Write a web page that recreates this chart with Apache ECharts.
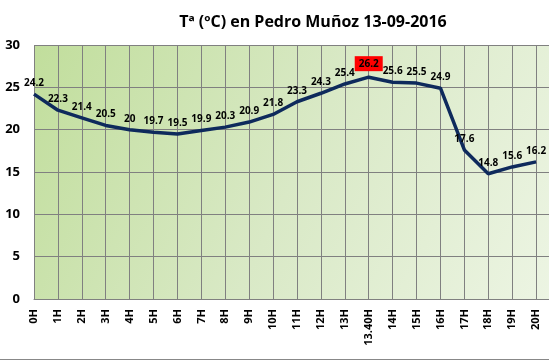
<!DOCTYPE html>
<html><head><meta charset="utf-8">
<script src="https://cdn.jsdelivr.net/npm/echarts@6/dist/echarts.min.js"></script>
<style>html,body{margin:0;padding:0;background:#fff;overflow:hidden}#c{width:560px;height:360px}</style>
</head><body><div id="c"></div>
<script>
var title = 'Tª (ºC) en Pedro Muñoz 13-09-2016';
var categories = ['0H','1H','2H','3H','4H','5H','6H','7H','8H','9H','10H','11H','12H','13H','13.40H','14H','15H','16H','17H','18H','19H','20H'];
var temps = [24.2,22.3,21.4,20.5,20,19.7,19.5,19.9,20.3,20.9,21.8,23.3,24.3,25.4,26.2,25.6,25.5,24.9,17.6,14.8,15.6,16.2];
var yTicks = [0,5,10,15,20,25,30];
var highlightCat = '13.40H';

var chart = echarts.init(document.getElementById('c'), null, {renderer:'canvas'});
var font = 'Open Sans';
var seriesData = temps.map(function(v,i){
  var d = {value:v};
  if (categories[i] === highlightCat) {
    d.label = {backgroundColor:'#ff0000', padding:[3,4,2,4], distance:6};
  }
  return d;
});
chart.setOption({
  animation:false,
  backgroundColor:'#ffffff',
  title:{text:title,left:308,top:9,textAlign:'center',textStyle:{fontFamily:font,fontWeight:'bold',fontSize:16,color:'#000'}},
  grid:{left:34,right:0,top:45,bottom:61,show:true,borderWidth:0,
    backgroundColor:new echarts.graphic.LinearGradient(0,0,1,1,[{offset:0,color:'#c1de9c'},{offset:0.5,color:'#d9e9c6'},{offset:1,color:'#edf5e4'}])},
  xAxis:{type:'category',data:categories.concat(['']),boundaryGap:false,
    axisLine:{lineStyle:{color:'#808080',width:1}},axisTick:{show:false},
    splitLine:{show:true,lineStyle:{color:'#808080',width:1}},
    axisLabel:{rotate:90,interval:0,margin:10,fontFamily:font,fontWeight:'bold',fontSize:11,color:'#000'}},
  yAxis:{type:'value',min:yTicks[0],max:yTicks[yTicks.length-1],interval:5,
    axisLine:{show:false},axisTick:{show:false},
    splitLine:{lineStyle:{color:'#808080',width:1}},
    axisLabel:{margin:14,fontFamily:font,fontWeight:'bold',fontSize:13,color:'#000'}},
  series:[{type:'line',data:seriesData,symbol:'circle',symbolSize:0,showSymbol:true,
    itemStyle:{color:'#0e2a5c'},
    lineStyle:{color:'#0e2a5c',width:3.5},
    label:{show:true,position:'top',distance:6,fontFamily:font,fontWeight:'bold',fontSize:10,color:'#000'}}],
  graphic:[{type:'line',shape:{x1:0,y1:359.5,x2:560,y2:359.5},style:{stroke:'#888',lineWidth:1}}]
});
</script></body></html>
